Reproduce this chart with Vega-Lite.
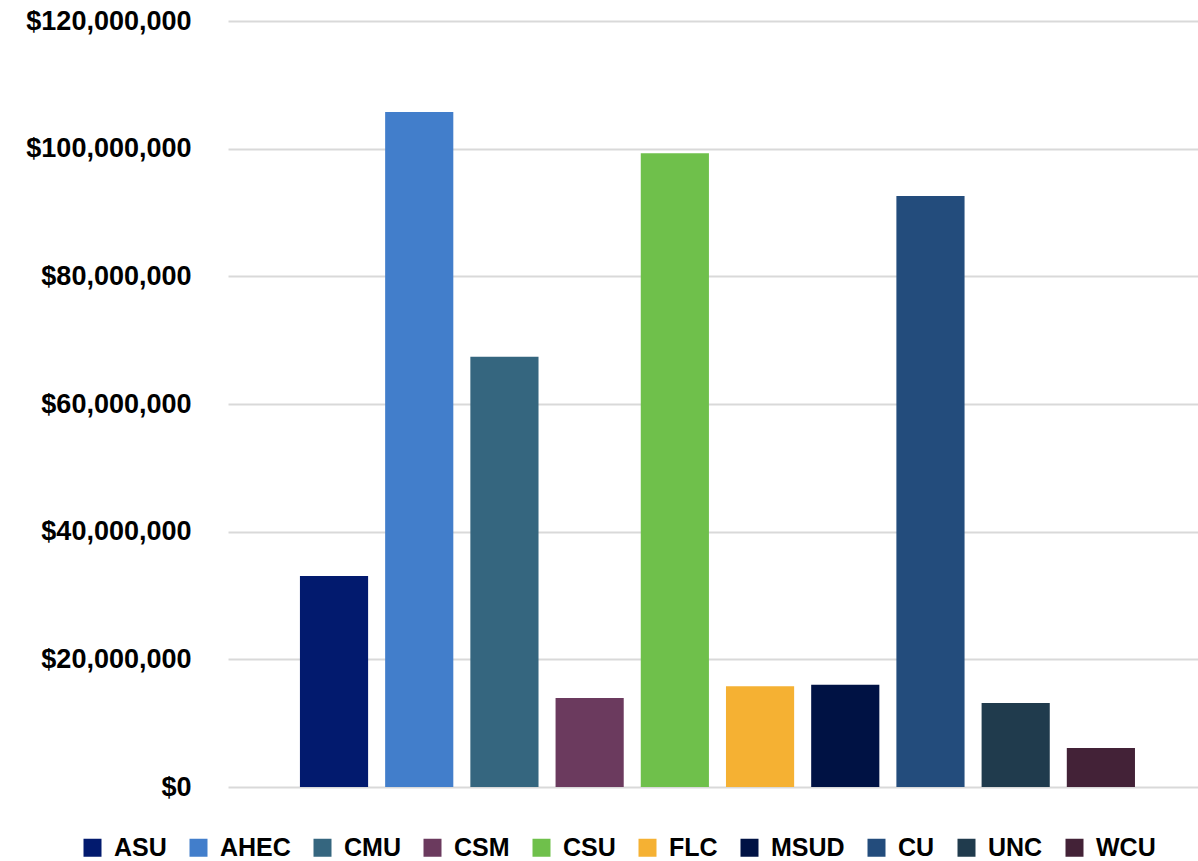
{
  "$schema": "https://vega.github.io/schema/vega-lite/v6.json",
  "width": 970,
  "height": 766,
  "autosize": {"type": "none"},
  "padding": {"left": 228, "top": 21, "right": 0, "bottom": 74},
  "background": "white",
  "data": {
    "values": [
      {"institution": "ASU", "amount": 33060000},
      {"institution": "AHEC", "amount": 105750000},
      {"institution": "CMU", "amount": 67400000},
      {"institution": "CSM", "amount": 13940000},
      {"institution": "CSU", "amount": 99300000},
      {"institution": "FLC", "amount": 15800000},
      {"institution": "MSUD", "amount": 16000000},
      {"institution": "CU", "amount": 92600000},
      {"institution": "UNC", "amount": 13160000},
      {"institution": "WCU", "amount": 6100000}
    ]
  },
  "mark": {"type": "bar"},
  "encoding": {
    "x": {
      "field": "institution",
      "type": "nominal",
      "sort": null,
      "scale": {"paddingInner": 0.2, "paddingOuter": 0.792, "align": 0.533},
      "axis": null
    },
    "y": {
      "field": "amount",
      "type": "quantitative",
      "scale": {"domain": [0, 120000000], "nice": false},
      "axis": {
        "title": null,
        "values": [0, 20000000, 40000000, 60000000, 80000000, 100000000, 120000000],
        "format": "$,.0f",
        "domain": false,
        "ticks": false,
        "labelPadding": 37,
        "labelFont": "Liberation Sans",
        "labelFontSize": 27,
        "labelFontWeight": "bold",
        "labelColor": "#000000",
        "grid": true,
        "gridColor": "#d9d9d9",
        "gridWidth": 2
      }
    },
    "color": {
      "field": "institution",
      "type": "nominal",
      "sort": null,
      "scale": {
        "domain": ["ASU", "AHEC", "CMU", "CSM", "CSU", "FLC", "MSUD", "CU", "UNC", "WCU"],
        "range": ["#021a6e", "#427ecb", "#35667f", "#6b3a5e", "#6fc04b", "#f5b133", "#001244", "#234c7c", "#203b4d", "#432237"]
      },
      "legend": {
        "title": null,
        "orient": "none",
        "legendX": -148,
        "legendY": 814,
        "direction": "horizontal",
        "columns": 10,
        "symbolType": "square",
        "symbolSize": 324,
        "symbolStrokeWidth": 0,
        "symbolOpacity": 1,
        "labelFont": "Liberation Sans",
        "labelFontSize": 25,
        "labelFontWeight": "bold",
        "labelColor": "#000000",
        "labelOffset": 9,
        "columnPadding": 19,
        "labelLimit": 300
      }
    }
  },
  "config": {"view": {"stroke": null}}
}
